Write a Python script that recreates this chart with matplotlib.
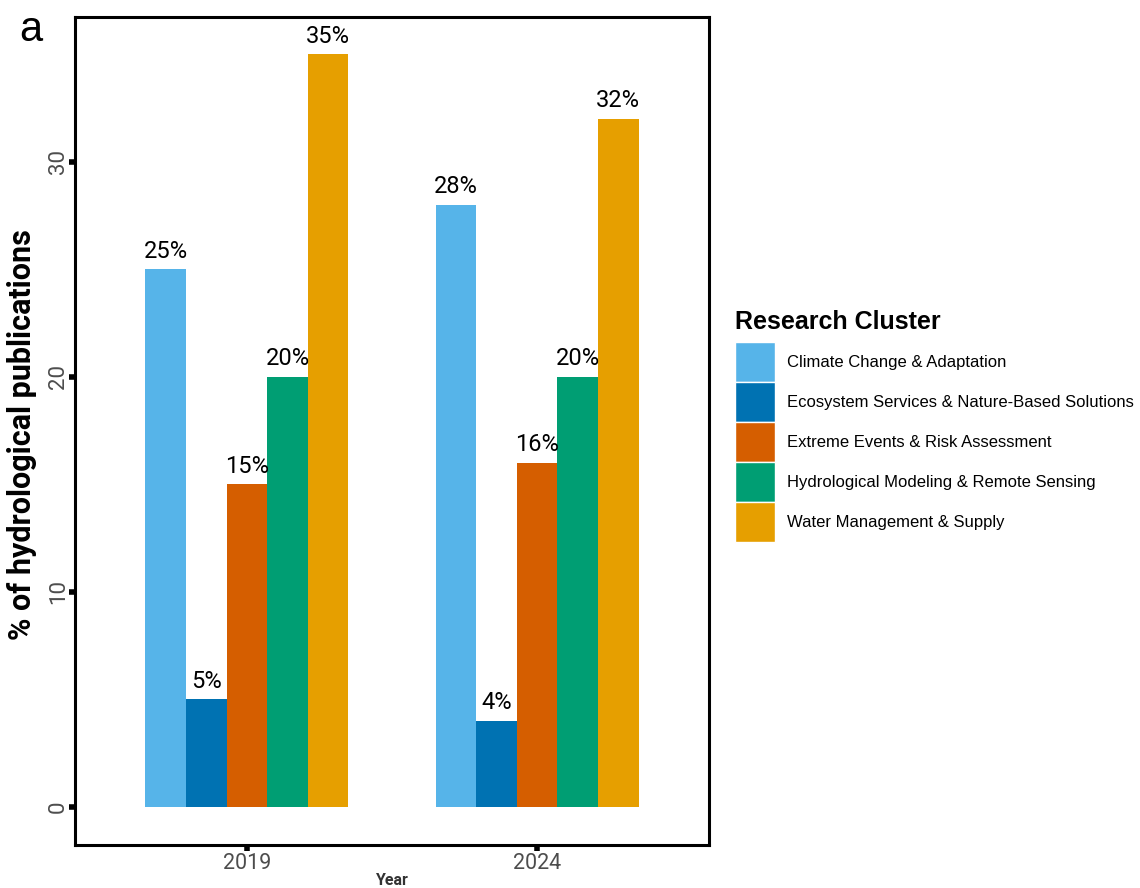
import matplotlib
matplotlib.use("Agg")
import matplotlib.pyplot as plt
from matplotlib.patches import Patch
import numpy as np

years = ["2019", "2024"]
clusters = ["Climate Change & Adaptation",
            "Ecosystem Services & Nature-Based Solutions",
            "Extreme Events & Risk Assessment",
            "Hydrological Modeling & Remote Sensing",
            "Water Management & Supply"]
values_2019 = [25, 5, 15, 20, 35]
values_2024 = [28, 4, 16, 20, 32]
colors = ["#56B4E9", "#0072B2", "#D55E00", "#009E73", "#E69F00"]
yticks = [0, 10, 20, 30]

W, H = 1140, 888
fig = plt.figure(figsize=(W / 100, H / 100), dpi=100)
ax = fig.add_axes([75 / W, (H - 845) / H, (709 - 75) / W, (845 - 17) / H])

x = np.arange(1, len(years) + 1)
n = len(clusters)
bw = 0.7 / n
data = np.array([values_2019, values_2024])
for i, (cl, col) in enumerate(zip(clusters, colors)):
    xs = x - 0.35 + bw * (i + 0.5)
    vals = data[:, i]
    ax.bar(xs, vals, width=bw, color=col, edgecolor="none", label=cl)
    for xx, v in zip(xs, vals):
        ax.text(xx, v + 0.3, f"{v}%", ha="center", va="bottom",
                fontsize=17, family="Roboto", color="black")

ax.set_xlim(0.407, 2.593)
ax.set_ylim(-1.77, 36.74)
ax.set_xticks(x)
ax.set_xticklabels(years)
ax.set_yticks(yticks)
ax.set_yticklabels([str(t) for t in yticks], rotation=90, va="center")
for lab in ax.get_xticklabels():
    lab.set_family("Roboto")
    lab.set_fontsize(15.5)
    lab.set_color("#4d4d4d")
for lab in ax.get_yticklabels():
    lab.set_family("Roboto")
    lab.set_fontsize(16)
    lab.set_color("#4d4d4d")
ax.tick_params(axis="both", direction="out", length=4, width=4, color="black")
ax.tick_params(axis="y", pad=0.5)
ax.tick_params(axis="x", pad=2)
for sp in ax.spines.values():
    sp.set_linewidth(2.2)
    sp.set_color("black")

ax.set_ylabel("% of hydrological publications", family="Roboto",
              fontweight="bold", fontsize=22)
ax.yaxis.set_label_coords((37 - 75) / 634, (845 - 435) / 828)
fig.text(392 / W, 1 - 880 / H, "Year", family="Roboto", fontweight="bold",
         fontsize=11.5, color="#333333", ha="center", va="center")
fig.text(31 / W, 1 - 30 / H, "a", family="Liberation Sans", fontsize=30,
         ha="center", va="center")

fs = 12
key_px = 40
h_units = (key_px / (fs * 100 / 72) - 0.245) / 0.65
handles = [Patch(facecolor=c, edgecolor="white", linewidth=1) for c in colors]
leg = fig.legend(handles, clusters, loc="upper left",
                 bbox_to_anchor=(735 / W, 1 - 310 / H),
                 frameon=False, title="Research Cluster",
                 prop={"family": "Liberation Sans", "size": fs},
                 handlelength=key_px / (fs * 100 / 72), handleheight=h_units,
                 labelspacing=0.0,
                 handletextpad=0.7, borderpad=0, borderaxespad=0)
leg.get_title().set_family("Liberation Sans")
leg.get_title().set_fontweight("bold")
leg.get_title().set_fontsize(18)
leg._legend_box.align = "left"
leg._legend_box.sep = 6

fig.savefig("out.png", dpi=100)
